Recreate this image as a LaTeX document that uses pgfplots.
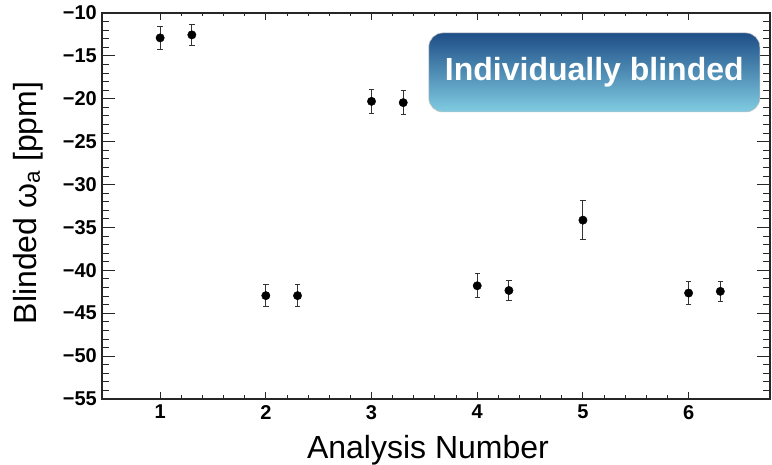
\documentclass[border=0pt]{standalone}
\usepackage{pgfplots}
\pgfplotsset{compat=1.18}
\usepackage{fontspec}
\setmainfont{Liberation Sans}
\definecolor{boxtop}{RGB}{30,78,135}
\definecolor{boxbot}{RGB}{128,204,226}
\begin{document}
\begin{tikzpicture}
\begin{axis}[name=ax, scale only axis, width=668pt, height=386pt,
  xmin=0.45, xmax=6.77, ymin=-55, ymax=-10,
  xtick={1,2,3,4,5,6}, xticklabels={1,2,3,4,5,6},
  minor x tick num=4,
  ytick={-55,-50,-45,-40,-35,-30,-25,-20,-15,-10},
  yticklabels={−55,−50,−45,−40,−35,−30,−25,−20,−15,−10},
  minor y tick num=4,
  tick align=inside, tick pos=both,
  axis line style={line width=1.4pt, black!85},
  every tick/.style={line width=0.9pt, black!85},
  major tick length=13pt, minor tick length=7pt,
  x tick style={/pgfplots/major tick length=7pt, /pgfplots/minor tick length=3.5pt},
  tick label style={font=\fontsize{20}{20}\selectfont\bfseries},
  yticklabel style={inner sep=0pt, xshift=-5pt},
  xticklabel style={inner sep=0pt, yshift=-6pt},
  xlabel={Analysis Number},
  ylabel={Blinded ω\textsubscript{a} [ppm]},
  label style={font=\fontsize{32}{32}\selectfont},
  x label style={at={(axis description cs:0.488,-0.155)}, anchor=base},
  y label style={at={(axis description cs:-0.1108,0.508)}, anchor=center},
  clip=false,
]
\addplot[only marks, mark=*, mark size=4.2pt, black,
  error bars/.cd, y dir=both, y explicit,
  error bar style={line width=0.9pt, black!80},
  error mark options={rotate=90, mark size=2.7pt, line width=0.9pt, black!80}]
coordinates {
  (1,-12.9) +- (0,1.35)
  (1.3,-12.55) +- (0,1.25)
  (2,-42.95) +- (0,1.3)
  (2.3,-42.95) +- (0,1.25)
  (3,-20.3) +- (0,1.4)
  (3.3,-20.45) +- (0,1.4)
  (4,-41.8) +- (0,1.38)
  (4.3,-42.35) +- (0,1.2)
  (5,-34.15) +- (0,2.3)
  (6,-42.65) +- (0,1.36)
  (6.3,-42.45) +- (0,1.2)
};
\node[minimum width=331pt, minimum height=79pt, inner sep=0pt,
  rounded corners=14pt, top color=boxtop, bottom color=boxbot,
  draw=black!25, line width=0.6pt,
  text=white, font=\fontsize{32}{32}\selectfont\bfseries]
  at (rel axis cs:0.737,0.846) {Individually blinded};
\end{axis}
\pgfresetboundingbox
\path[use as bounding box] ([xshift=-102pt,yshift=-66pt]ax.south west) rectangle ([xshift=2pt,yshift=13pt]ax.north east);
\end{tikzpicture}
\end{document}
